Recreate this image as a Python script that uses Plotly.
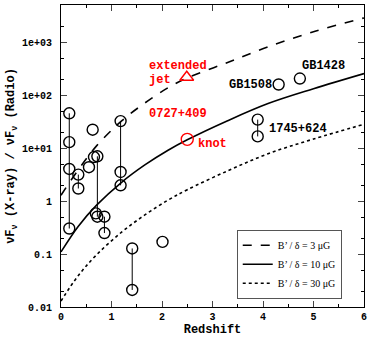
import numpy as np
import plotly.graph_objects as go

# model curves
z_model = [0, 0.34, 0.7, 1.2, 1.66, 2.12, 2.5, 3.3, 4.1, 5, 6]
ratio_b3 = [1.3, 3.9, 11, 33, 72, 140, 215, 420, 830, 1600, 2925]
ratio_b10 = [0.11, 0.334, 0.834, 2.28, 4.85, 9.2, 14.5, 33.3, 70.2, 134, 259]
ratio_b30 = [0.013, 0.039, 0.096, 0.26, 0.55, 1.05, 1.65, 3.75, 7.9, 15, 28.5]

# observed sources (redshift, ratios); several knots per source are joined
src_z = [0.164, 0.343, 0.627, 0.554, 0.653, 0.72, 0.69, 0.86, 1.18, 1.41, 2.01, 3.895, 4.31, 4.73]
src_ratio = [
    [46, 13.1, 4.07, 0.305],
    [3.19, 1.74],
    [22.5],
    [4.4],
    [6.85],
    [7.07, 0.51],
    [0.59],
    [0.51, 0.25],
    [32.7, 3.57, 2.0],
    [0.128, 0.021],
    [0.17],
    [34.9, 16.8],
    [161],
    [209],
]

knot_z, knot_ratio = [2.5], [14.8]
ext_z, ext_ratio = [2.49], [221]

mono = "Liberation Mono"
fig = go.Figure()

# connectors first so the circles sit on top
for z, vals in zip(src_z, src_ratio):
    if len(vals) > 1:
        fig.add_trace(go.Scatter(x=[z, z], y=[max(vals), min(vals)], mode="lines",
                                 line=dict(color="black", width=1), showlegend=False,
                                 hoverinfo="skip"))

curves = [(ratio_b3, "dash", "B’ / δ = 3 μG"),
          (ratio_b10, "solid", "B’ / δ = 10 μG"),
          (ratio_b30, "dot", "B’ / δ = 30 μG")]
for vals, dash, name in curves:
    fig.add_trace(go.Scatter(x=z_model, y=vals, mode="lines", name=name,
                             line=dict(color="black", width=1.6, dash=dash, shape="spline")))

pts_x = [z for z, vals in zip(src_z, src_ratio) for _ in vals]
pts_y = [v for vals in src_ratio for v in vals]
fig.add_trace(go.Scatter(x=pts_x, y=pts_y, mode="markers", showlegend=False,
                         marker=dict(symbol="circle-open", size=11, color="black",
                                     line=dict(width=1.4))))
fig.add_trace(go.Scatter(x=knot_z, y=knot_ratio, mode="markers", showlegend=False,
                         marker=dict(symbol="circle-open", size=12, color="red",
                                     line=dict(width=1.4))))
fig.add_trace(go.Scatter(x=ext_z, y=ext_ratio, mode="markers", showlegend=False,
                         marker=dict(symbol="triangle-up-open", size=12, color="red",
                                     line=dict(width=1.4))))

labels = [
    (4.73, 2.553, "GB1428", "black"),
    (3.28, 2.19, "GB1508", "black"),
    (4.085, 1.364, "1745+624", "black"),
    (1.70, 2.553, "extended", "red"),
    (1.70, 2.296, "jet", "red"),
    (1.70, 1.655, "0727+409", "red"),
    (2.667, 1.075, "knot", "red"),
]
for x, y, t, c in labels:
    fig.add_annotation(x=x, y=y, text=t, showarrow=False, xanchor="left",
                       font=dict(family=mono, size=12, color=c, weight="bold"))

fig.update_xaxes(range=[0, 6], dtick=1, ticks="inside", ticklen=6, mirror="allticks",
                 showline=True, linecolor="black", linewidth=1, showgrid=False, zeroline=False,
                 minor=dict(ticks="inside", ticklen=3, dtick=0.5, tickcolor="black"),
                 tickfont=dict(family=mono, size=10, color="black", weight="bold"),
                 title=dict(text="Redshift", standoff=0,
                            font=dict(family=mono, size=12, color="black", weight="bold")))
fig.update_yaxes(type="log", range=[-2, 3.71], ticks="inside", ticklen=6, mirror="allticks",
                 tickvals=[0.01, 0.1, 1, 10, 100, 1000],
                 ticktext=["0.01", "0.1", "1", "1e+01", "1e+02", "1e+03"],
                 ticklabelstandoff=6,
                 showline=True, linecolor="black", linewidth=1, showgrid=False, zeroline=False,
                 minor=dict(ticks="inside", ticklen=3, tickcolor="black"),
                 tickfont=dict(family=mono, size=10, color="black", weight="bold"),
                 title=dict(text="νF<sub>ν</sub> (X-ray) / νF<sub>ν</sub> (Radio)", standoff=4,
                            font=dict(family=mono, size=12, color="black", weight="bold")))

fig.update_layout(width=374, height=337, margin=dict(l=61, r=10, t=5, b=30, autoexpand=False),
                  plot_bgcolor="white", paper_bgcolor="white",
                  legend=dict(x=0.58, y=0.256, xanchor="left", yanchor="top",
                              bgcolor="white", bordercolor="#555", borderwidth=1,
                              font=dict(family="Liberation Serif", size=10, color="black"),
                              itemwidth=30))
fig.write_html("out.html", config={"displayModeBar": False},
               post_script="document.body.style.margin='0';")
